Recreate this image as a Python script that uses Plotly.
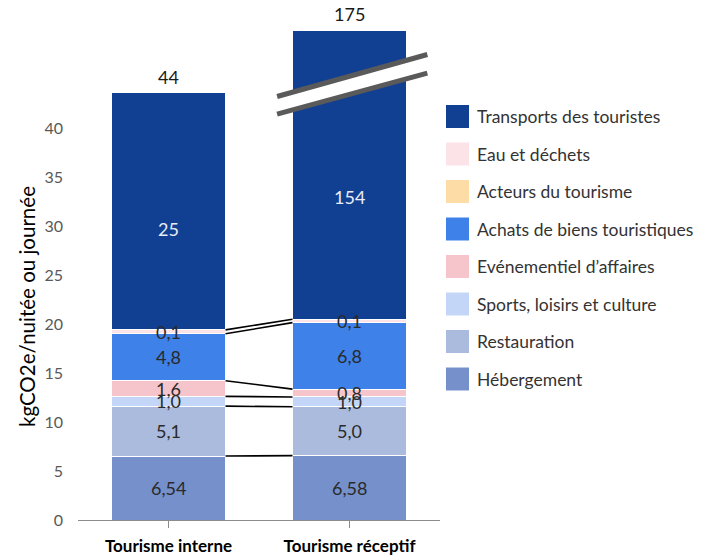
import plotly.graph_objects as go

categories = ["Tourisme interne", "Tourisme réceptif"]

# series from bottom to top of the stack
series_names = [
    "Hébergement",
    "Restauration",
    "Sports, loisirs et culture",
    "Evénementiel d’affaires",
    "Achats de biens touristiques",
    "Acteurs du tourisme",
    "Eau et déchets",
    "Transports des touristes",
]
hebergement = [6.54, 6.58]
restauration = [5.1, 5.0]
sports = [1.0, 1.0]
evenementiel = [1.6, 0.8]
achats = [4.8, 6.8]
acteurs = [0.0, 0.0]
eau = [0.4, 0.35]
transports = [24.3, 154.0]

label_hebergement = ["6,54", "6,58"]
label_restauration = ["5,1", "5,0"]
label_sports = ["1,0", "1,0"]
label_evenementiel = ["1,6", "0,8"]
label_achats = ["4,8", "6,8"]
label_acteurs = ["", ""]
label_eau = ["0,1", "0,1"]
label_transports = ["25", "154"]
total_labels = ["44", "175"]

colors = ["#7590CA", "#ABBBDD", "#C3D6F7", "#F6C5CC", "#3E81E8", "#FDDCA6", "#FCE3E7", "#113F92"]
label_colors = ["#2a2a2a"] * 7 + ["#E8ECF5"]

values = [hebergement, restauration, sports, evenementiel, achats, acteurs, eau, transports]
labels = [label_hebergement, label_restauration, label_sports, label_evenementiel,
          label_achats, label_acteurs, label_eau, label_transports]

y_max = 50
bar_w = 0.63
FONT = "Lato"

fig = go.Figure()
for name, vals, col in zip(series_names, values, colors):
    fig.add_trace(go.Bar(
        x=[0, 1], y=vals, name=name, width=bar_w,
        marker=dict(color=col, line=dict(color="white", width=1)),
        showlegend=False, hoverinfo="skip",
    ))

annotations = []
shapes = []

# cumulative tops
tops = []
cum = [0.0, 0.0]
for vals in values:
    cum = [c + v for c, v in zip(cum, vals)]
    tops.append(list(cum))

# segment labels
base = [0.0, 0.0]
for si, (vals, labs) in enumerate(zip(values, labels)):
    for i in range(2):
        if labs[i]:
            top = min(base[i] + vals[i], y_max)
            ymid = (base[i] + top) / 2
            yshift = 0
            if si == len(values) - 1:
                if base[i] + vals[i] > y_max:
                    ymid = (base[i] + 45.5) / 2
                else:
                    yshift = -18
            annotations.append(dict(
                x=i, y=ymid, text=labs[i], showarrow=False, yshift=yshift,
                font=dict(family=FONT, size=18, color=label_colors[si]),
                xref="x", yref="y"))
    base = [b + v for b, v in zip(base, vals)]

# totals above bars
for i in range(2):
    ytop = min(tops[-1][i], y_max)
    annotations.append(dict(
        x=i, y=ytop, text=total_labels[i], showarrow=False, yanchor="bottom",
        yshift=2 if tops[-1][i] <= y_max else 4,
        font=dict(family=FONT, size=18, color="#1a1a1a"), xref="x", yref="y"))

# connector lines between segment tops
for si in [0, 1, 2, 3, 4, 6]:
    shapes.append(dict(type="line", xref="x", yref="y",
                       x0=bar_w / 2, x1=1 - bar_w / 2,
                       y0=tops[si][0], y1=tops[si][1],
                       line=dict(color="black", width=1.6)))

# break marker on the clipped bar
bx0, bx1 = 0.60, 1.43
shapes.append(dict(type="path", xref="x", yref="y",
                   path=f"M {bx0},43.3 L {bx1},47.6 L {bx1},45.7 L {bx0},41.5 Z",
                   fillcolor="white", line=dict(width=0)))
for (ya, yb) in [(43.3, 47.6), (41.5, 45.7)]:
    shapes.append(dict(type="line", xref="x", yref="y", x0=bx0, x1=bx1, y0=ya, y1=yb,
                       line=dict(color="#5A5A5A", width=5)))

# manual legend (top to bottom = reverse stack order)
W, H = 709, 558
L, R, T, B = 78, 440, 31, 520
def px(x):
    return (x - L) / (R - L)
def py(y):
    return (B - y) / (B - T)

for k, si in enumerate(reversed(range(len(series_names)))):
    cy = 116.5 + k * 37.5
    shapes.append(dict(type="rect", xref="paper", yref="paper",
                       x0=px(446), x1=px(469), y0=py(cy - 11.5), y1=py(cy + 11.5),
                       fillcolor=colors[si], line=dict(width=0)))
    annotations.append(dict(x=px(475), y=py(cy), xref="paper", yref="paper",
                            text=series_names[si], showarrow=False,
                            xanchor="left", yanchor="middle",
                            font=dict(family=FONT, size=17.5, color="#333333")))

# y-axis title as annotation
annotations.append(dict(x=px(27), y=py(307), xref="paper", yref="paper",
                        text="kgCO2e/nuitée ou journée", showarrow=False, textangle=-90,
                        xanchor="center", yanchor="middle",
                        font=dict(family=FONT, size=20.5, color="black")))

fig.update_layout(
    barmode="stack",
    width=W, height=H,
    margin=dict(l=L, r=W - R, t=T, b=H - B, pad=0),
    plot_bgcolor="white", paper_bgcolor="white",
    shapes=shapes, annotations=annotations,
    showlegend=False,
    xaxis=dict(
        range=[-0.5, 1.5], tickmode="array", tickvals=[0, 1], ticktext=categories,
        tickson="boundaries", ticks="outside", ticklen=7, tickcolor="#8c8c8c",
        showline=True, linecolor="#8c8c8c", linewidth=1.3,
        tickfont=dict(family=FONT, size=17, color="black", weight="bold"),
        ticklabelstandoff=3, showgrid=False, zeroline=False, automargin=False,
    ),
    yaxis=dict(
        range=[0, y_max], tickvals=[0, 5, 10, 15, 20, 25, 30, 35, 40],
        showgrid=False, zeroline=False, showline=False,
        tickfont=dict(family=FONT, size=16, color="#595959"),
        ticklabelstandoff=14, automargin=False,
    ),
)

fig.write_html("out.html", config={"displayModeBar": False},
               post_script="document.body.style.margin='0';document.body.style.padding='0';"
                           "document.documentElement.style.overflow='hidden';")
